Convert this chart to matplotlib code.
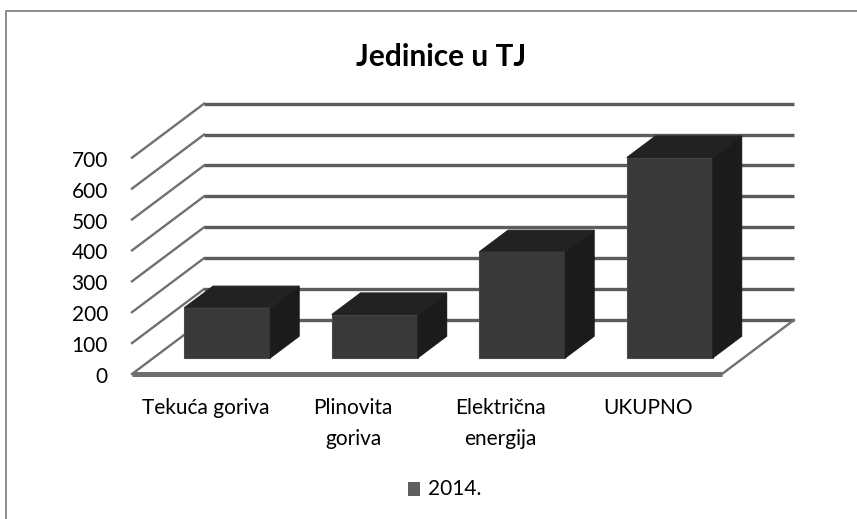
import matplotlib
matplotlib.use("Agg")
import matplotlib.pyplot as plt
from matplotlib.patches import Polygon, Rectangle

categories = ["Tekuća goriva", "Plinovita\ngoriva", "Električna\nenergija", "UKUPNO"]
values = [162, 140, 343, 648]
y_ticks = [0, 100, 200, 300, 400, 500, 600, 700]
series_name = "2014."
title = "Jedinice u TJ"

W, H = 857, 519
px_x = 147.5        # pixels per category
px_y = 0.309        # pixels per value unit
x0 = 132 / px_x + 0.5   # distance of x=0 from left edge, in categories
y0 = (H - 374) / px_y   # distance of value 0 from the bottom
depth_x = 72 / px_x
depth_y = 54 / px_y
bar_w = 86 / px_x


def proj(x, v, d=0.0):
    return (x + d * depth_x, v + d * depth_y)


plt.rcParams["font.family"] = ["Lato", "DejaVu Sans"]
fig = plt.figure(figsize=(W / 100, H / 100), dpi=100)
ax = fig.add_axes([0, 0, 1, 1])
ax.set_xlim(-x0, W / px_x - x0)
ax.set_ylim(-y0, H / px_y - y0)
ax.axis("off")

# chart frame
fig.add_artist(plt.Line2D([6 / W, 6 / W, 1], [0, 1 - 11 / H, 1 - 11 / H], color="#8c8c8c", lw=1.4))

# gridlines on the back wall and left side
xl, xr = -0.5, len(values) - 0.5
for i, t in enumerate(y_ticks):
    a = proj(xl, t, 0)
    b = proj(xl, t, 1)
    c = proj(xr, t, 1)
    ax.plot([a[0], b[0]], [a[1], b[1]], color="#707070", lw=1.7, zorder=1)
    ax.plot([b[0], c[0]], [b[1], c[1]], color="#5c5c5c", lw=2.4, zorder=1, solid_capstyle="butt")
    ax.text(xl - 0.163, t - 10, str(t), ha="right", va="center", fontsize=15, color="black")

# floor
a = proj(xr, 0, 0)
b = proj(xr, 0, 1)
ax.plot([xl, a[0]], [0, 0], color="#6e6e6e", lw=3.6, zorder=2, solid_capstyle="butt")
ax.plot([a[0], b[0]], [a[1], b[1]], color="#707070", lw=1.7, zorder=2)

# bars
d1, d2 = 0.3, 0.7
for i, v in enumerate(values):
    l, r = i - bar_w / 2, i + bar_w / 2
    ax.add_patch(Polygon([proj(l, 0, d1), proj(r, 0, d1), proj(r, v, d1), proj(l, v, d1)],
                         fc="#393939", ec="#4a4a4a", lw=0.8, zorder=3 + i))
    ax.add_patch(Polygon([proj(r, 0, d1), proj(r, 0, d2), proj(r, v, d2), proj(r, v, d1)],
                         fc="#1b1b1b", ec="#1b1b1b", lw=0.8, zorder=3 + i))
    ax.add_patch(Polygon([proj(l, v, d1), proj(r, v, d1), proj(r, v, d2), proj(l, v, d2)],
                         fc="#222222", ec="#222222", lw=0.8, zorder=3 + i))
    ax.text(i, -79, categories[i], ha="center", va="top", fontsize=15,
            linespacing=1.64, color="black")

fig.text(441 / W, 1 - 57 / H, title, ha="center", va="center",
         fontsize=21.5, fontweight="bold", color="black")

# legend
fig.patches.append(Rectangle((408 / W, 1 - 496 / H), 12 / W, 14 / H, transform=fig.transFigure,
                             fc="#5f5f5f", ec="none"))
fig.text(428 / W, 1 - 489 / H, series_name, ha="left", va="center", fontsize=15, color="black")

fig.savefig("out.png", dpi=100)
